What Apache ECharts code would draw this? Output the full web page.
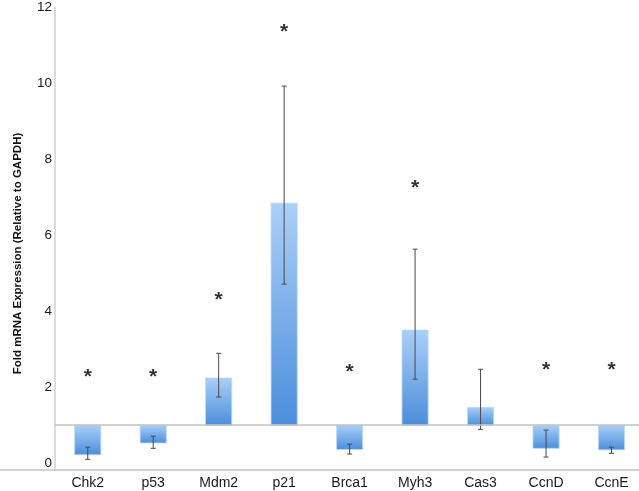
<!DOCTYPE html>
<html>
<head>
<meta charset="utf-8">
<script src="https://cdn.jsdelivr.net/npm/echarts@6/dist/echarts.min.js"></script>
<style>html,body{margin:0;padding:0;background:#fff;}#c{width:639px;height:491px;}</style>
</head>
<body>
<div id="c"></div>
<script>
const categories = ['Chk2', 'p53', 'Mdm2', 'p21', 'Brca1', 'Myh3', 'Cas3', 'CcnD', 'CcnE'];
const foldValues = [0.22, 0.53, 2.24, 6.84, 0.36, 3.5, 1.47, 0.39, 0.35];
const errHigh = [0.42, 0.71, 2.89, 9.92, 0.5, 5.63, 2.47, 0.87, 0.42];
const errLow = [0.1, 0.39, 1.74, 4.71, 0.24, 2.21, 0.89, 0.16, 0.26];
const starY = [2.4, 2.4, 4.42, 11.47, 2.53, 7.37, null, 2.58, 2.58];
const yTicks = [0, 2, 4, 6, 8, 10, 12];
const baseline = 1;

const chart = echarts.init(document.getElementById('c'));
const font = '"Liberation Sans", Arial, Helvetica, sans-serif';

const catIdx = categories.map((c, i) => i);
const barData = categories.map((c, i) => [i, foldValues[i]]);
const errData = categories.map((c, i) => [i, errLow[i], errHigh[i]]);
const starData = [];
starY.forEach((v, i) => { if (v !== null) starData.push([i, v]); });

chart.setOption({
  animation: false,
  grid: { left: 55, right: 0, top: 7, bottom: 21, containLabel: false },
  xAxis: {
    type: 'value',
    min: -0.5,
    max: 8.42,
    axisLine: { show: true, onZero: false, lineStyle: { color: '#c4c4c4', width: 1.5 } },
    axisTick: { show: false },
    axisLabel: {
      customValues: catIdx,
      formatter: function (v) { return categories[Math.round(v)]; },
      color: '#1a1a1a', fontSize: 14, fontFamily: font, margin: 6
    },
    splitLine: { show: false }
  },
  yAxis: {
    type: 'value',
    min: -0.18,
    max: 12,
    name: 'Fold mRNA Expression (Relative to GAPDH)',
    nameLocation: 'middle',
    nameGap: 31,
    nameTextStyle: { fontSize: 11.5, fontWeight: 'bold', color: '#111', fontFamily: font, padding: [0, 30, 0, 0] },
    axisLine: { show: true, onZero: false, lineStyle: { color: '#cfcfcf', width: 1.5 } },
    axisTick: { show: false },
    splitLine: { show: false },
    axisLabel: { customValues: yTicks, color: '#1a1a1a', fontSize: 13.5, fontFamily: font, margin: 3 }
  },
  graphic: [{
    type: 'line', shape: { x1: 0, y1: 470, x2: 56, y2: 470 },
    style: { stroke: '#c4c4c4', lineWidth: 1.5 }, silent: true
  }],
  series: [
    {
      type: 'custom',
      name: 'fold',
      data: barData,
      encode: { x: 0, y: 1 },
      renderItem: function (params, api) {
        const i = api.value(0);
        const v = api.value(1);
        const p0 = api.coord([i, baseline]);
        const p1 = api.coord([i, v]);
        const w = api.size([1, 0])[0] * 0.4;
        const top = Math.min(p0[1], p1[1]);
        const h = Math.abs(p0[1] - p1[1]);
        return {
          type: 'rect',
          shape: { x: p0[0] - w / 2, y: top, width: w, height: h },
          style: {
            fill: new echarts.graphic.LinearGradient(0, 0, 0, 1, [
              { offset: 0, color: '#abcff7' },
              { offset: 1, color: '#4a8edb' }
            ]),
            stroke: 'rgba(190,218,250,0.8)',
            lineWidth: 1
          }
        };
      },
      markLine: {
        silent: true,
        symbol: 'none',
        label: { show: false },
        lineStyle: { color: '#c2c2c2', width: 1.5, type: 'solid' },
        data: [{ yAxis: baseline }]
      },
      z: 2
    },
    {
      type: 'custom',
      name: 'error',
      data: errData,
      encode: { x: 0, y: [1, 2] },
      renderItem: function (params, api) {
        const i = api.value(0);
        const lo = api.coord([i, api.value(1)]);
        const hi = api.coord([i, api.value(2)]);
        const cw = 2.5;
        const st = { stroke: '#4a4a4a', lineWidth: 1 };
        return {
          type: 'group',
          children: [
            { type: 'line', shape: { x1: lo[0], y1: lo[1], x2: hi[0], y2: hi[1] }, style: st },
            { type: 'line', shape: { x1: hi[0] - cw, y1: hi[1], x2: hi[0] + cw, y2: hi[1] }, style: st },
            { type: 'line', shape: { x1: lo[0] - cw, y1: lo[1], x2: lo[0] + cw, y2: lo[1] }, style: st }
          ]
        };
      },
      z: 3
    },
    {
      type: 'scatter',
      name: 'sig',
      data: starData,
      symbolSize: 1,
      itemStyle: { color: 'rgba(0,0,0,0)' },
      label: {
        show: true,
        formatter: '*',
        position: 'inside',
        offset: [0, 5],
        fontSize: 21,
        fontWeight: 'bold',
        color: '#000',
        fontFamily: font
      },
      z: 4
    }
  ]
});
</script>
</body>
</html>
